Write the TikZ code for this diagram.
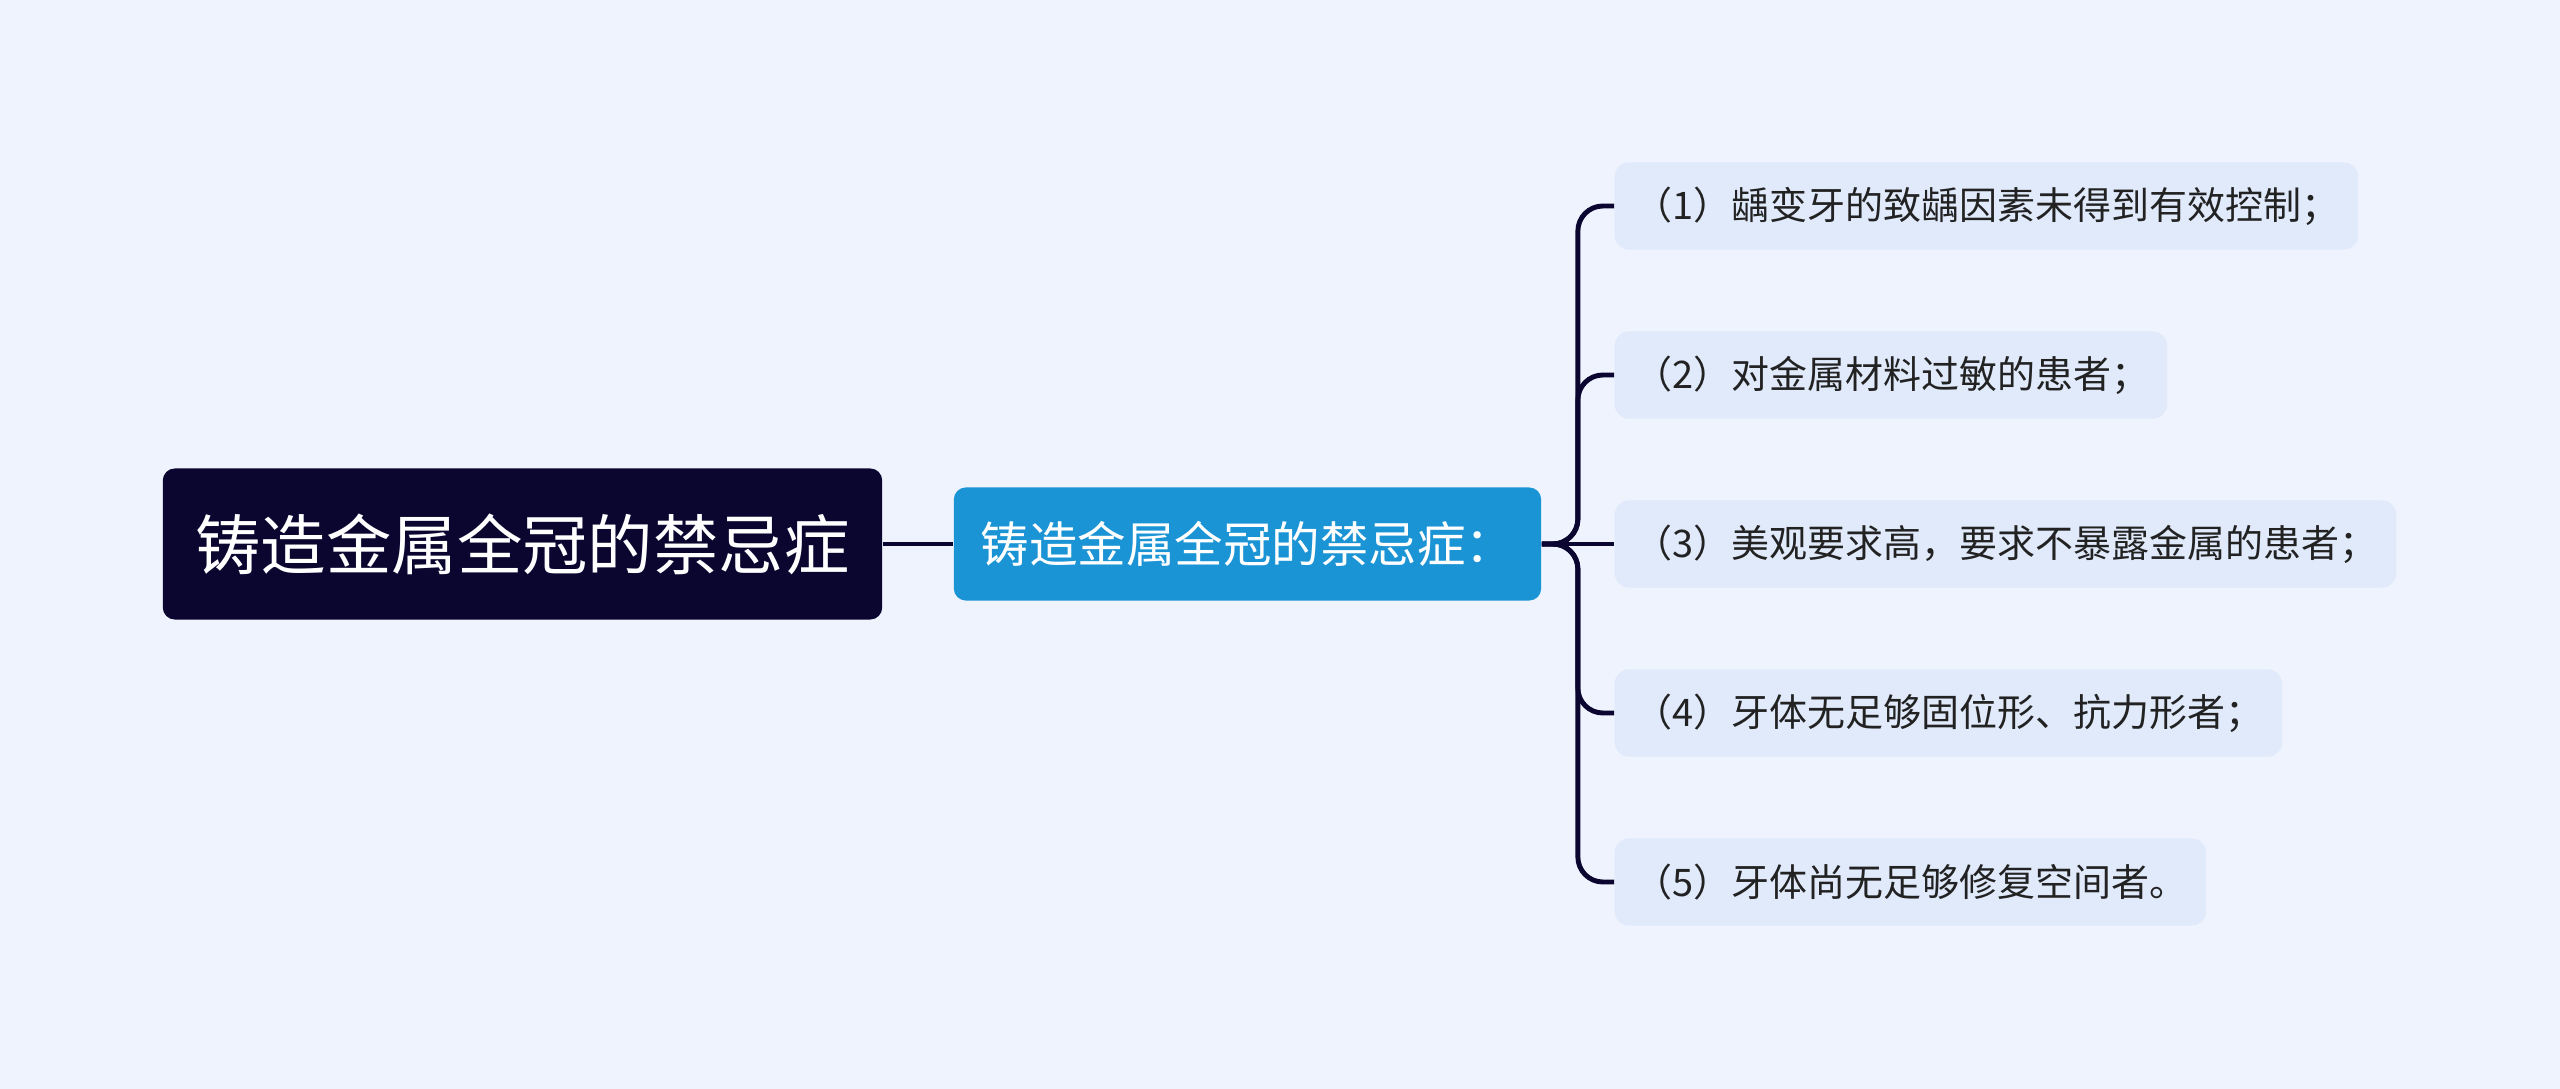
\documentclass[tikz,border=0pt]{standalone}
\usepackage{fontspec}
\setmainfont{Noto Sans CJK SC}
\usepackage{xcolor}
\usepackage{tikz}
\usetikzlibrary{positioning}

\definecolor{bgblue}{HTML}{EEF3FE}
\definecolor{rootnavy}{HTML}{0B0630}
\definecolor{subblue}{HTML}{1A94D4}
\definecolor{leafblue}{HTML}{E0EAFB}
\definecolor{leaftext}{HTML}{222222}

\begin{document}
\begin{tikzpicture}[x=0.01cm,y=-0.01cm,thin]
                \tikzset{root/.style={fill=rootnavy, text=white, rounded corners=0.12cm, inner sep=0pt, minimum width=7.19cm, minimum height=1.51cm, font=\fontsize{18.6}{22}\selectfont},
                         branch/.style={fill=subblue, text=white, rounded corners=0.12cm, inner sep=0pt, minimum width=5.87cm, minimum height=1.13cm, font=\fontsize{13.8}{16}\selectfont},
                         leaf/.style={fill=leafblue, text=leaftext, rounded corners=0.14cm, anchor=west, inner xsep=0.2cm, minimum height=0.87cm, align=left, text width=#1, font=\fontsize{10.8}{13}\selectfont},
                         link/.style={draw=rootnavy, line width=1.4pt, rounded corners=0.25cm}}

                \fill[bgblue] (0,0) rectangle (2560,1089);

                \node[root] (R) at (522.5,544) {铸造金属全冠的禁忌症};
                \node[branch] (S) at (1247.5,544) {铸造金属全冠的禁忌症：};
                \node[leaf=7.03cm] (L1) at (1614,206) {（1）龋变牙的致龋因素未得到有效控制；};
                \node[leaf=5.12cm] (L2) at (1614,375) {（2）对金属材料过敏的患者；};
                \node[leaf=7.41cm] (L3) at (1614,544) {（3）美观要求高，要求不暴露金属的患者；};
                \node[leaf=6.27cm] (L4) at (1614,713) {（4）牙体无足够固位形、抗力形者；};
                \node[leaf=5.51cm] (L5) at (1614,882) {（5）牙体尚无足够修复空间者。};

                \path[link] (R) -- (S);
                \path[link] (S.east) -- (L3.west);
                \foreach \n in {L1,L2,L4,L5}
                    \path[link] (S.east) -- ++(36,0) |- (\n.west);
            \end{tikzpicture}
\end{document}
